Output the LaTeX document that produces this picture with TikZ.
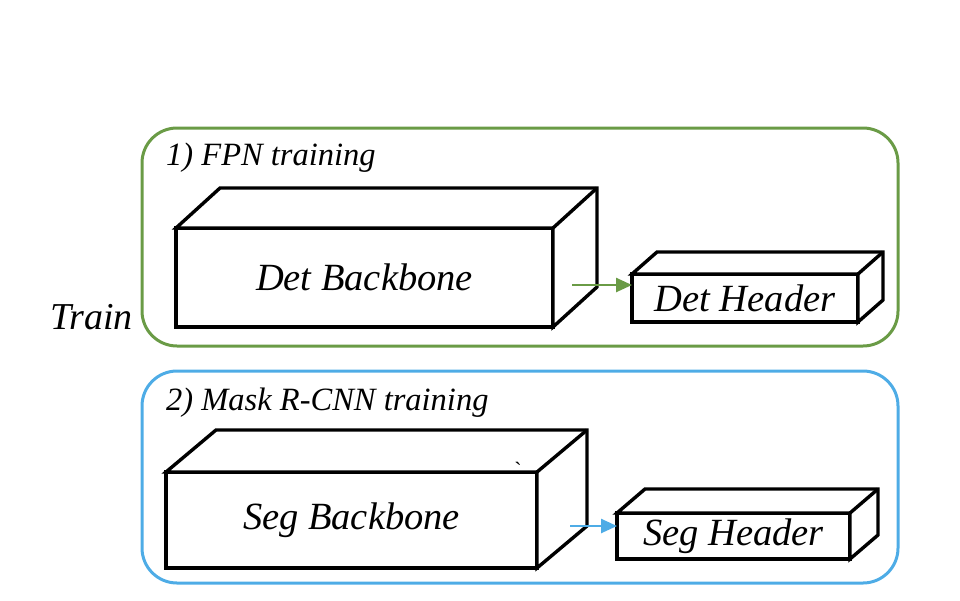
\documentclass[tikz,border=0pt]{standalone}
\usepackage{fontspec}
\setmainfont{Liberation Serif}
\usepackage{tikz}
\usetikzlibrary{arrows.meta, positioning, calc}
\definecolor{fpngreen}{RGB}{106,155,70}
\definecolor{maskblue}{RGB}{78,172,230}
\tikzset{
    stagebox/.style={rectangle, rounded corners=35pt, line width=3pt,
                     inner sep=0pt, outer sep=0pt, minimum width=756pt},
    facebox/.style={rectangle, draw=black, line width=3.4pt, fill=white,
                    inner sep=0pt, outer sep=0pt,
                    font=\fontsize{38.5}{42}\selectfont\itshape},
    sideface/.style={draw=black, line width=3.4pt, fill=white},
    flowarrow/.style={-{Triangle[length=16pt, width=14pt]}, line width=2.5pt},
    stagelbl/.style={anchor=base west, inner sep=0pt,
                     font=\fontsize{32.5}{36}\selectfont\itshape},
}
% top and side faces behind a front face node
\newcommand{\drawdepth}[3]{%
    \draw[sideface] (#1.north west) -- ++(#2,#3) -- ($(#1.north east)+(#2,#3)$)
        -- ($(#1.south east)+(#2,#3)$) -- (#1.south east) -- (#1.north east) -- cycle;
    \draw[sideface] (#1.north east) -- ++(#2,#3);
}
\begin{document}
\begin{tikzpicture}[x=1pt, y=-1pt]
    \useasboundingbox (0,0) rectangle (960,600);
    % stage frames
    \node[stagebox, draw=fpngreen, minimum height=218pt] (fpnstage) at (520,237) {};
    \node[stagebox, draw=maskblue, minimum height=212pt] (maskstage) at (520,477) {};
    \node[stagelbl] (fpnlbl) at (166,165) {1) FPN training};
    \node[stagelbl] (masklbl) at (166,410) {2) Mask R-CNN training};
    \node[anchor=base west, inner sep=0pt,
          font=\fontsize{38}{42}\selectfont\itshape] (trainlbl) at (50,329) {Train};
    % FPN stage
    \node[facebox, minimum width=377pt, minimum height=99pt] (detbackbone) at (364.5,277.5) {Det Backbone};
    \drawdepth{detbackbone}{44}{-40}
    \node[facebox, minimum width=226pt, minimum height=48pt] (dethead) at (745,298) {Det Header};
    \drawdepth{dethead}{25}{-22}
    \coordinate (detout) at (572,285);
    \draw[flowarrow, fpngreen] (detout) -- (detout -| dethead.west);
    % Mask R-CNN stage
    \node[facebox, minimum width=371pt, minimum height=96pt] (segbackbone) at (351.5,520) {Seg Backbone};
    \drawdepth{segbackbone}{50}{-42}
    \node[inner sep=0pt, font=\fontsize{22}{24}\selectfont] (straymark) at (518,470) {\textasciigrave};
    \node[facebox, minimum width=233pt, minimum height=46pt] (seghead) at (733.5,536) {Seg Header};
    \drawdepth{seghead}{28}{-24}
    \coordinate (segout) at (570,526);
    \draw[flowarrow, maskblue] (segout) -- (segout -| seghead.west);
\end{tikzpicture}
\end{document}
